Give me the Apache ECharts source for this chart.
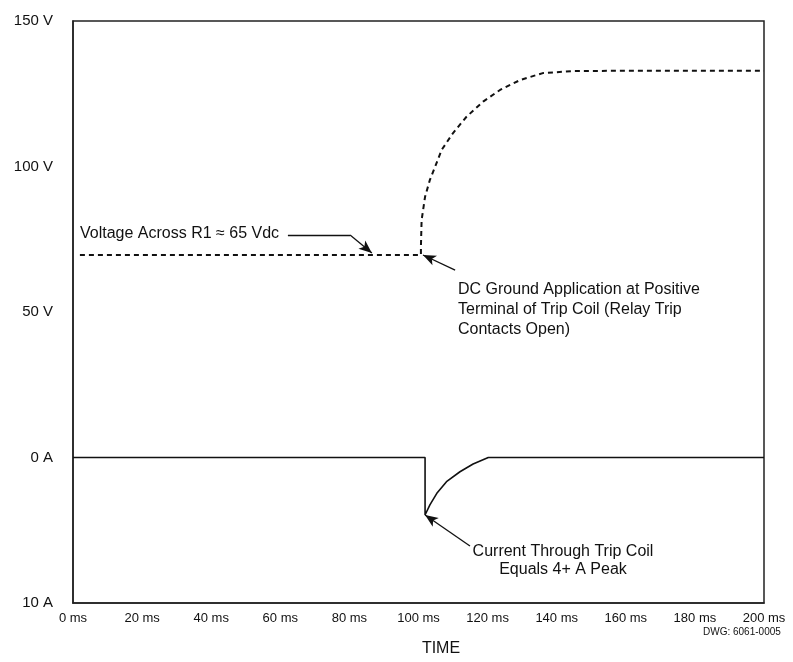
<!DOCTYPE html>
<html>
<head>
<meta charset="utf-8">
<script src="https://cdn.jsdelivr.net/npm/echarts@6/dist/echarts.min.js"></script>
<style>
html,body{margin:0;padding:0;background:#fff;}
#chart{width:793px;height:662px;}
</style>
</head>
<body>
<div id="chart"></div>
<script>
// ---- data ----
const yTickValues = [-50, 0, 50, 100, 150];
const yTickLabels = ['10 A', '0 A', '50 V', '100 V', '150 V'];
const xTickValues = [0, 20, 40, 60, 80, 100, 120, 140, 160, 180, 200];
const xTickLabels = ['0 ms', '20 ms', '40 ms', '60 ms', '80 ms', '100 ms', '120 ms', '140 ms', '160 ms', '180 ms', '200 ms'];

// voltage across R1 (V) vs time (ms)
const voltageTimeMs = [2, 100.7, 100.7, 100.9, 101.9, 103.3, 104.8, 106.7, 110.0, 113.9, 118.7, 123.6, 129.4, 136.0, 144.7, 160, 200];
const voltageV      = [69.6, 69.6, 72.4, 81.6, 89.6, 95.4, 99.9, 105.7, 111.5, 117.1, 122.3, 126.3, 129.7, 132.1, 132.8, 132.9, 132.9];

// current through trip coil (A, plotted downward) vs time (ms)
const currentTimeMs = [0, 101.9, 101.9, 103.3, 105.3, 108.1, 112.0, 115.8, 120.2, 200];
const currentA      = [0, 0, 3.95, 3.26, 2.46, 1.66, 0.98, 0.45, 0, 0];

// annotation arrows (data coordinates)
const voltLeader = [[62.2, 76.5], [80.2, 76.5], [86.5, 70.3]];
const groundArrow = [[110.6, 64.4], [101.3, 69.6]];
const currentArrow = [[114.9, 6.08], [101.9, 3.95]];

const annVoltage = 'Voltage Across R1 \u2248 65 Vdc';
const annGround = 'DC Ground Application at Positive\nTerminal of Trip Coil (Relay Trip\nContacts Open)';
const annCurrent = 'Current Through Trip Coil\nEquals 4+ A Peak';

// ---- chart ----
const FONT = '"Liberation Sans", Arial, sans-serif';
const INK = '#111';
const chart = echarts.init(document.getElementById('chart'), null, {renderer: 'canvas'});

const zip = (xs, ys) => xs.map((x, i) => [x, ys[i]]);
const lbl = (vals, labs) => v => { const i = vals.indexOf(v); return i >= 0 ? labs[i] : ''; };

const markStyle = {
  symbolSize: [8, 13],
  lineStyle: {color: INK, width: 1.3, type: 'solid'},
  label: {show: false},
  emphasis: {disabled: true},
  silent: true
};
const seg = (a, b, head) => [{coord: a, symbol: 'none'}, {coord: b, symbol: head ? 'arrow' : 'none'}];

const option = {
  animation: false,
  backgroundColor: '#fff',
  textStyle: {fontFamily: FONT, color: INK},
  grid: {
    left: 73, top: 21, right: 29, bottom: 59,
    show: true, borderColor: '#222', borderWidth: 1.5,
    containLabel: false, outerBoundsMode: 'none'
  },
  xAxis: {
    type: 'value', min: 0, max: 200, interval: 20,
    axisLine: {show: true, onZero: false, lineStyle: {color: '#222', width: 1.5}},
    axisTick: {show: false},
    splitLine: {show: false},
    axisLabel: {
      color: INK, fontFamily: FONT, fontSize: 13, margin: 9,
      formatter: lbl(xTickValues, xTickLabels)
    }
  },
  yAxis: [{
    type: 'value', min: -50, max: 150, interval: 50,
    axisLine: {show: true, onZero: false, lineStyle: {color: '#222', width: 1.5}},
    axisTick: {show: false},
    splitLine: {show: false},
    axisLabel: {
      color: INK, fontFamily: FONT, fontSize: 15, margin: 20,
      formatter: lbl(yTickValues, yTickLabels)
    }
  }, {
    type: 'value', min: -30, max: 10, inverse: true, show: false,
    splitLine: {show: false}
  }],
  series: [{
    name: 'Voltage', type: 'line', yAxisIndex: 0,
    data: zip(voltageTimeMs, voltageV),
    showSymbol: false, smooth: false,
    lineStyle: {color: INK, width: 2, type: [5, 4]},
    markLine: Object.assign({symbol: ['none', 'none'], data: [
      seg(voltLeader[0], voltLeader[1], false),
      seg(voltLeader[1], voltLeader[2], true),
      seg(groundArrow[0], groundArrow[1], true)
    ]}, markStyle),
    z: 3
  }, {
    name: 'Current', type: 'line', yAxisIndex: 1,
    data: zip(currentTimeMs, currentA),
    showSymbol: false, smooth: false,
    lineStyle: {color: INK, width: 1.6, type: 'solid'},
    markLine: Object.assign({symbol: ['none', 'none'], data: [
      seg(currentArrow[0], currentArrow[1], true)
    ]}, markStyle),
    z: 3
  }],
  graphic: [
    {type: 'text', left: 80, top: 226, style: {text: annVoltage, font: '16px ' + FONT, fill: INK}},
    {type: 'text', left: 458, top: 280, style: {text: annGround, font: '16px ' + FONT, fill: INK, lineHeight: 20}},
    {type: 'text', x: 563, y: 543, style: {text: annCurrent, font: '16px ' + FONT, fill: INK, lineHeight: 18, align: 'center'}},
    {type: 'text', x: 441, y: 641, style: {text: 'TIME', font: '16px ' + FONT, fill: INK, align: 'center'}},
    {type: 'text', x: 703, y: 627, style: {text: 'DWG: 6061-0005', font: '10px ' + FONT, fill: INK}}
  ]
};
chart.setOption(option);
</script>
</body>
</html>
